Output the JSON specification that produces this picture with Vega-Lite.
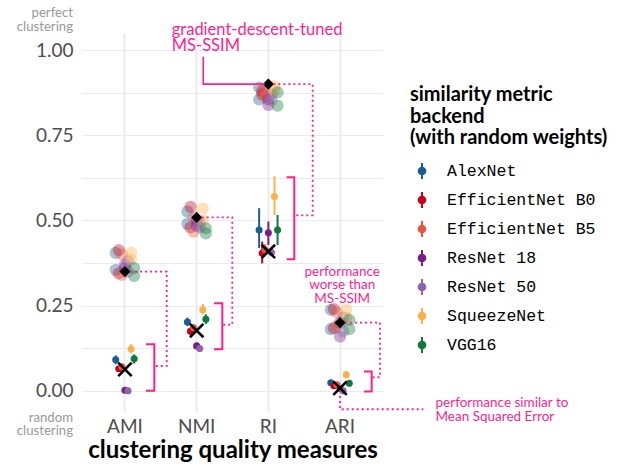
{
  "$schema": "https://vega.github.io/schema/vega-lite/v6.json",
  "width": 301,
  "height": 379,
  "autosize": "none",
  "padding": {"left": 82, "top": 33, "right": 247, "bottom": 53},
  "background": "white",
  "config": {
    "font": "Lato",
    "view": {"stroke": null},
    "legend": {
      "labelFont": "Liberation Mono",
      "labelFontSize": 16.5,
      "labelColor": "#000000",
      "labelLimit": 300,
      "titleFont": "Lato",
      "titleFontSize": 20,
      "titleFontWeight": "bold",
      "titleColor": "#000000",
      "titleLineHeight": 21.5,
      "titleLimit": 300,
      "titlePadding": 14,
      "rowPadding": 5,
      "symbolOffset": 3,
      "labelOffset": 16
    }
  },
  "datasets": {
    "random": [
      {"metric": "AMI", "network": "AlexNet", "value": 0.091, "lo": 0.078, "hi": 0.104},
      {"metric": "AMI", "network": "EfficientNet B0", "value": 0.065, "lo": 0.057, "hi": 0.073},
      {"metric": "AMI", "network": "EfficientNet B5", "value": 0.071, "lo": 0.063, "hi": 0.079},
      {"metric": "AMI", "network": "ResNet 18", "value": 0.002, "lo": 0.0, "hi": 0.004},
      {"metric": "AMI", "network": "ResNet 50", "value": 0.0, "lo": 0.0, "hi": 0.003},
      {"metric": "AMI", "network": "SqueezeNet", "value": 0.123, "lo": 0.11, "hi": 0.137},
      {"metric": "AMI", "network": "VGG16", "value": 0.094, "lo": 0.08, "hi": 0.107},
      {"metric": "NMI", "network": "AlexNet", "value": 0.202, "lo": 0.19, "hi": 0.215},
      {"metric": "NMI", "network": "EfficientNet B0", "value": 0.175, "lo": 0.165, "hi": 0.186},
      {"metric": "NMI", "network": "EfficientNet B5", "value": 0.185, "lo": 0.175, "hi": 0.195},
      {"metric": "NMI", "network": "ResNet 18", "value": 0.132, "lo": 0.127, "hi": 0.137},
      {"metric": "NMI", "network": "ResNet 50", "value": 0.124, "lo": 0.119, "hi": 0.129},
      {"metric": "NMI", "network": "SqueezeNet", "value": 0.238, "lo": 0.225, "hi": 0.255},
      {"metric": "NMI", "network": "VGG16", "value": 0.21, "lo": 0.196, "hi": 0.225},
      {"metric": "RI", "network": "AlexNet", "value": 0.472, "lo": 0.419, "hi": 0.536},
      {"metric": "RI", "network": "EfficientNet B0", "value": 0.404, "lo": 0.374, "hi": 0.438},
      {"metric": "RI", "network": "EfficientNet B5", "value": 0.413, "lo": 0.4, "hi": 0.43},
      {"metric": "RI", "network": "ResNet 18", "value": 0.464, "lo": 0.428, "hi": 0.497},
      {"metric": "RI", "network": "ResNet 50", "value": 0.406, "lo": 0.395, "hi": 0.418},
      {"metric": "RI", "network": "SqueezeNet", "value": 0.57, "lo": 0.516, "hi": 0.63},
      {"metric": "RI", "network": "VGG16", "value": 0.472, "lo": 0.428, "hi": 0.516},
      {"metric": "ARI", "network": "AlexNet", "value": 0.024, "lo": 0.018, "hi": 0.03},
      {"metric": "ARI", "network": "EfficientNet B0", "value": 0.015, "lo": 0.009, "hi": 0.021},
      {"metric": "ARI", "network": "EfficientNet B5", "value": 0.018, "lo": 0.012, "hi": 0.024},
      {"metric": "ARI", "network": "ResNet 18", "value": 0.006, "lo": 0.002, "hi": 0.01},
      {"metric": "ARI", "network": "ResNet 50", "value": 0.0, "lo": 0.0, "hi": 0.003},
      {"metric": "ARI", "network": "SqueezeNet", "value": 0.047, "lo": 0.038, "hi": 0.058},
      {"metric": "ARI", "network": "VGG16", "value": 0.022, "lo": 0.016, "hi": 0.028}
    ],
    "trained": [
      {"metric": "AMI", "network": "AlexNet", "value": 0.405},
      {"metric": "AMI", "network": "AlexNet", "value": 0.355},
      {"metric": "AMI", "network": "EfficientNet B0", "value": 0.413},
      {"metric": "AMI", "network": "EfficientNet B0", "value": 0.345},
      {"metric": "AMI", "network": "EfficientNet B5", "value": 0.4},
      {"metric": "AMI", "network": "EfficientNet B5", "value": 0.34},
      {"metric": "AMI", "network": "ResNet 18", "value": 0.37},
      {"metric": "AMI", "network": "ResNet 18", "value": 0.36},
      {"metric": "AMI", "network": "ResNet 50", "value": 0.38},
      {"metric": "AMI", "network": "ResNet 50", "value": 0.35},
      {"metric": "AMI", "network": "SqueezeNet", "value": 0.405},
      {"metric": "AMI", "network": "SqueezeNet", "value": 0.385},
      {"metric": "AMI", "network": "VGG16", "value": 0.36},
      {"metric": "AMI", "network": "VGG16", "value": 0.337},
      {"metric": "NMI", "network": "AlexNet", "value": 0.526},
      {"metric": "NMI", "network": "AlexNet", "value": 0.49},
      {"metric": "NMI", "network": "EfficientNet B0", "value": 0.54},
      {"metric": "NMI", "network": "EfficientNet B0", "value": 0.48},
      {"metric": "NMI", "network": "EfficientNet B5", "value": 0.51},
      {"metric": "NMI", "network": "EfficientNet B5", "value": 0.467},
      {"metric": "NMI", "network": "ResNet 18", "value": 0.5},
      {"metric": "NMI", "network": "ResNet 18", "value": 0.485},
      {"metric": "NMI", "network": "ResNet 50", "value": 0.495},
      {"metric": "NMI", "network": "ResNet 50", "value": 0.48},
      {"metric": "NMI", "network": "SqueezeNet", "value": 0.535},
      {"metric": "NMI", "network": "SqueezeNet", "value": 0.5},
      {"metric": "NMI", "network": "VGG16", "value": 0.477},
      {"metric": "NMI", "network": "VGG16", "value": 0.462},
      {"metric": "RI", "network": "AlexNet", "value": 0.89},
      {"metric": "RI", "network": "AlexNet", "value": 0.855},
      {"metric": "RI", "network": "EfficientNet B0", "value": 0.88},
      {"metric": "RI", "network": "EfficientNet B0", "value": 0.87},
      {"metric": "RI", "network": "EfficientNet B5", "value": 0.863},
      {"metric": "RI", "network": "EfficientNet B5", "value": 0.875},
      {"metric": "RI", "network": "ResNet 18", "value": 0.839},
      {"metric": "RI", "network": "ResNet 18", "value": 0.855},
      {"metric": "RI", "network": "ResNet 50", "value": 0.853},
      {"metric": "RI", "network": "ResNet 50", "value": 0.87},
      {"metric": "RI", "network": "SqueezeNet", "value": 0.894},
      {"metric": "RI", "network": "SqueezeNet", "value": 0.88},
      {"metric": "RI", "network": "VGG16", "value": 0.876},
      {"metric": "RI", "network": "VGG16", "value": 0.837},
      {"metric": "ARI", "network": "AlexNet", "value": 0.238},
      {"metric": "ARI", "network": "AlexNet", "value": 0.181},
      {"metric": "ARI", "network": "EfficientNet B0", "value": 0.24},
      {"metric": "ARI", "network": "EfficientNet B0", "value": 0.184},
      {"metric": "ARI", "network": "EfficientNet B5", "value": 0.23},
      {"metric": "ARI", "network": "EfficientNet B5", "value": 0.19},
      {"metric": "ARI", "network": "ResNet 18", "value": 0.159},
      {"metric": "ARI", "network": "ResNet 18", "value": 0.2},
      {"metric": "ARI", "network": "ResNet 50", "value": 0.215},
      {"metric": "ARI", "network": "ResNet 50", "value": 0.175},
      {"metric": "ARI", "network": "SqueezeNet", "value": 0.238},
      {"metric": "ARI", "network": "SqueezeNet", "value": 0.215},
      {"metric": "ARI", "network": "VGG16", "value": 0.208},
      {"metric": "ARI", "network": "VGG16", "value": 0.181}
    ],
    "baselines": [
      {"metric": "AMI", "method": "MS-SSIM tuned", "value": 0.35},
      {"metric": "NMI", "method": "MS-SSIM tuned", "value": 0.509},
      {"metric": "RI", "method": "MS-SSIM tuned", "value": 0.9},
      {"metric": "ARI", "method": "MS-SSIM tuned", "value": 0.2},
      {"metric": "AMI", "method": "MSE", "value": 0.063},
      {"metric": "NMI", "method": "MSE", "value": 0.177},
      {"metric": "RI", "method": "MSE", "value": 0.409},
      {"metric": "ARI", "method": "MSE", "value": 0.008}
    ],
    "annotLines": [
      {"kind": "pointer", "id": "p1", "ord": 1, "x": 2.092, "y": 0.98},
      {"kind": "pointer", "id": "p1", "ord": 2, "x": 2.092, "y": 0.9},
      {"kind": "pointer", "id": "p1", "ord": 3, "x": 2.95, "y": 0.9},
      {"kind": "connector", "id": "c1", "ord": 1, "x": 1.07, "y": 0.35},
      {"kind": "connector", "id": "c1", "ord": 2, "x": 1.582, "y": 0.35},
      {"kind": "connector", "id": "c1", "ord": 3, "x": 1.582, "y": 0.073},
      {"kind": "connector", "id": "c1", "ord": 4, "x": 1.409, "y": 0.073},
      {"kind": "connector", "id": "c2", "ord": 1, "x": 2.07, "y": 0.509},
      {"kind": "connector", "id": "c2", "ord": 2, "x": 2.497, "y": 0.509},
      {"kind": "connector", "id": "c2", "ord": 3, "x": 2.497, "y": 0.194},
      {"kind": "connector", "id": "c2", "ord": 4, "x": 2.358, "y": 0.194},
      {"kind": "connector", "id": "c3", "ord": 1, "x": 3.07, "y": 0.9},
      {"kind": "connector", "id": "c3", "ord": 2, "x": 3.619, "y": 0.9},
      {"kind": "connector", "id": "c3", "ord": 3, "x": 3.619, "y": 0.515},
      {"kind": "connector", "id": "c3", "ord": 4, "x": 3.362, "y": 0.515},
      {"kind": "connector", "id": "c4", "ord": 1, "x": 4.07, "y": 0.2},
      {"kind": "connector", "id": "c4", "ord": 2, "x": 4.558, "y": 0.2},
      {"kind": "connector", "id": "c4", "ord": 3, "x": 4.558, "y": 0.04},
      {"kind": "connector", "id": "c4", "ord": 4, "x": 4.442, "y": 0.04},
      {"kind": "connector", "id": "c5", "ord": 1, "x": 4.0, "y": -0.015},
      {"kind": "connector", "id": "c5", "ord": 2, "x": 4.0, "y": -0.054},
      {"kind": "connector", "id": "c5", "ord": 3, "x": 5.162, "y": -0.054},
      {"kind": "bracket", "id": "b1", "ord": 1, "x": 1.293, "y": 0.137},
      {"kind": "bracket", "id": "b1", "ord": 2, "x": 1.409, "y": 0.137},
      {"kind": "bracket", "id": "b1", "ord": 3, "x": 1.409, "y": 0.0},
      {"kind": "bracket", "id": "b1", "ord": 4, "x": 1.293, "y": 0.0},
      {"kind": "bracket", "id": "b2", "ord": 1, "x": 2.242, "y": 0.257},
      {"kind": "bracket", "id": "b2", "ord": 2, "x": 2.358, "y": 0.257},
      {"kind": "bracket", "id": "b2", "ord": 3, "x": 2.358, "y": 0.122},
      {"kind": "bracket", "id": "b2", "ord": 4, "x": 2.242, "y": 0.122},
      {"kind": "bracket", "id": "b3", "ord": 1, "x": 3.256, "y": 0.627},
      {"kind": "bracket", "id": "b3", "ord": 2, "x": 3.362, "y": 0.627},
      {"kind": "bracket", "id": "b3", "ord": 3, "x": 3.362, "y": 0.386},
      {"kind": "bracket", "id": "b3", "ord": 4, "x": 3.256, "y": 0.386},
      {"kind": "bracket", "id": "b4", "ord": 1, "x": 4.335, "y": 0.057},
      {"kind": "bracket", "id": "b4", "ord": 2, "x": 4.442, "y": 0.057},
      {"kind": "bracket", "id": "b4", "ord": 3, "x": 4.442, "y": -0.002},
      {"kind": "bracket", "id": "b4", "ord": 4, "x": 4.335, "y": -0.002}
    ],
    "annotText": [
      {"kind": "tuned", "label": "gradient-descent-tuned\nMS-SSIM", "x": 1.652, "y": 1.059},
      {"kind": "worse", "label": "performance\nworse than\nMS-SSIM", "x": 4.031, "y": 0.35},
      {"kind": "similar", "label": "performance similar to\nMean Squared Error", "x": 5.333, "y": -0.036},
      {"kind": "scale", "label": "perfect\nclustering", "x": 0.275, "y": 1.108},
      {"kind": "scale", "label": "random\nclustering", "x": 0.275, "y": -0.079}
    ]
  },
  "layer": [
    {
      "layer": [
        {
          "data": {"name": "trained"},
          "mark": {"type": "point", "filled": true, "size": 150, "opacity": 0.38},
          "encoding": {
            "x": {
              "field": "metric", "type": "nominal", "sort": null,
              "scale": {"type": "band", "domain": ["AMI", "NMI", "RI", "ARI"], "paddingInner": 0.7, "paddingOuter": 0.449},
              "title": "clustering quality measures",
              "axis": {
                "labelAngle": 0, "labelFontSize": 19, "labelColor": "#4d4d4d", "labelPadding": 5,
                "ticks": false, "domain": false, "grid": true, "gridColor": "#ebebeb", "gridWidth": 2,
                "titleFontSize": 24, "titleFontWeight": "bold", "titleColor": "#000000", "titlePadding": 2
              }
            },
            "xOffset": {"field": "network", "type": "nominal", "scale": {"type": "point", "padding": 0.5}},
            "y": {
              "field": "value", "type": "quantitative", "title": null,
              "scale": {"domain": [-0.062, 1.05], "nice": false, "zero": false},
              "axis": {
                "values": [0, 0.125, 0.25, 0.375, 0.5, 0.625, 0.75, 0.875, 1.0],
                "labelExpr": "round(datum.value * 8) % 2 == 0 ? format(datum.value, '.2f') : ''",
                "labelFontSize": 19, "labelColor": "#4d4d4d", "labelPadding": 9,
                "ticks": false, "domain": false, "grid": true, "gridColor": "#ebebeb", "gridWidth": 1.2
              }
            },
            "color": {
              "field": "network", "type": "nominal",
              "scale": {
                "domain": ["AlexNet", "EfficientNet B0", "EfficientNet B5", "ResNet 18", "ResNet 50", "SqueezeNet", "VGG16"],
                "range": ["#1a5f91", "#c4001a", "#e9573f", "#7a1f82", "#8e63b0", "#fdb14d", "#0f7a3c"]
              },
              "legend": {
                "title": ["similarity metric", "backend", "(with random weights)"],
                "orient": "none", "legendX": 328, "legendY": 52,
                "symbolType": "M0,-1L0,1M-0.42,0A0.42,0.42 0 1,0 0.42,0A0.42,0.42 0 1,0 -0.42,0Z",
                "symbolSize": 256,
                "symbolStrokeWidth": 2,
                "symbolOpacity": 1,
                "encoding": {
                  "symbols": {
                    "stroke": {"value": {"expr": "scale('color', datum.value)"}},
                    "fill": {"value": {"expr": "scale('color', datum.value)"}},
                    "opacity": {"value": 1},
                    "strokeWidth": {"value": 2}
                  }
                }
              }
            }
          }
        },
        {
          "data": {"name": "baselines"},
          "transform": [{"filter": "datum.method == 'MS-SSIM tuned'"}],
          "mark": {"type": "point", "shape": "diamond", "filled": true, "size": 125, "color": "#000000", "opacity": 1},
          "encoding": {
            "x": {"field": "metric", "type": "nominal", "sort": null},
            "y": {"field": "value", "type": "quantitative", "title": null}
          }
        },
        {
          "data": {"name": "random"},
          "mark": {"type": "rule", "strokeWidth": 2},
          "encoding": {
            "x": {"field": "metric", "type": "nominal", "sort": null},
            "xOffset": {"field": "network", "type": "nominal"},
            "y": {"field": "lo", "type": "quantitative", "title": null},
            "y2": {"field": "hi"},
            "color": {
              "field": "network", "type": "nominal",
              "legend": {
                "title": ["similarity metric", "backend", "(with random weights)"],
                "orient": "none", "legendX": 328, "legendY": 52,
                "symbolType": "M0,-1L0,1M-0.42,0A0.42,0.42 0 1,0 0.42,0A0.42,0.42 0 1,0 -0.42,0Z",
                "symbolSize": 256,
                "symbolStrokeWidth": 2,
                "symbolOpacity": 1,
                "encoding": {
                  "symbols": {
                    "stroke": {"value": {"expr": "scale('color', datum.value)"}},
                    "fill": {"value": {"expr": "scale('color', datum.value)"}},
                    "opacity": {"value": 1},
                    "strokeWidth": {"value": 2}
                  }
                }
              }
            }
          }
        },
        {
          "data": {"name": "random"},
          "mark": {"type": "point", "filled": true, "size": 50, "opacity": 1},
          "encoding": {
            "x": {"field": "metric", "type": "nominal", "sort": null},
            "xOffset": {"field": "network", "type": "nominal"},
            "y": {"field": "value", "type": "quantitative", "title": null},
            "color": {
              "field": "network", "type": "nominal",
              "legend": {
                "title": ["similarity metric", "backend", "(with random weights)"],
                "orient": "none", "legendX": 328, "legendY": 52,
                "symbolType": "M0,-1L0,1M-0.42,0A0.42,0.42 0 1,0 0.42,0A0.42,0.42 0 1,0 -0.42,0Z",
                "symbolSize": 256,
                "symbolStrokeWidth": 2,
                "symbolOpacity": 1,
                "encoding": {
                  "symbols": {
                    "stroke": {"value": {"expr": "scale('color', datum.value)"}},
                    "fill": {"value": {"expr": "scale('color', datum.value)"}},
                    "opacity": {"value": 1},
                    "strokeWidth": {"value": 2}
                  }
                }
              }
            }
          }
        },
        {
          "data": {"name": "baselines"},
          "transform": [{"filter": "datum.method == 'MSE'"}],
          "mark": {"type": "point", "shape": "M-1,-1L1,1M-1,1L1,-1", "filled": false, "size": 180, "strokeWidth": 2.6, "color": "#000000", "opacity": 1},
          "encoding": {
            "x": {"field": "metric", "type": "nominal", "sort": null},
            "y": {"field": "value", "type": "quantitative", "title": null}
          }
        }
      ]
    },
    {
      "layer": [
        {
          "data": {"name": "annotLines"},
          "transform": [{"filter": "datum.kind == 'connector'"}],
          "mark": {"type": "line", "color": "#ff1f8f", "strokeWidth": 1.8, "strokeDash": [2, 3]},
          "encoding": {
            "x": {"field": "x", "type": "quantitative", "scale": {"domain": [0.4, 4.6], "nice": false, "zero": false}, "axis": null},
            "y": {"field": "y", "type": "quantitative", "title": null},
            "detail": {"field": "id"},
            "order": {"field": "ord"}
          }
        },
        {
          "data": {"name": "annotLines"},
          "transform": [{"filter": "datum.kind == 'bracket'"}],
          "mark": {"type": "line", "color": "#ff1f8f", "strokeWidth": 2},
          "encoding": {
            "x": {"field": "x", "type": "quantitative", "axis": null},
            "y": {"field": "y", "type": "quantitative", "title": null},
            "detail": {"field": "id"},
            "order": {"field": "ord"}
          }
        },
        {
          "data": {"name": "annotLines"},
          "transform": [{"filter": "datum.kind == 'pointer'"}],
          "mark": {"type": "line", "color": "#ff1f8f", "strokeWidth": 1.6},
          "encoding": {
            "x": {"field": "x", "type": "quantitative", "axis": null},
            "y": {"field": "y", "type": "quantitative", "title": null},
            "detail": {"field": "id"},
            "order": {"field": "ord"}
          }
        },
        {
          "data": {"name": "annotText"},
          "transform": [{"filter": "datum.kind == 'tuned'"}],
          "mark": {"type": "text", "color": "#ff1f8f", "fontSize": 16.5, "align": "left", "baseline": "middle", "lineBreak": "\n", "lineHeight": 16.5},
          "encoding": {
            "x": {"field": "x", "type": "quantitative", "axis": null},
            "y": {"field": "y", "type": "quantitative", "title": null},
            "text": {"field": "label"}
          }
        },
        {
          "data": {"name": "annotText"},
          "transform": [{"filter": "datum.kind == 'worse'"}],
          "mark": {"type": "text", "color": "#ff1f8f", "fontSize": 13.5, "align": "center", "baseline": "middle", "lineBreak": "\n", "lineHeight": 13.5},
          "encoding": {
            "x": {"field": "x", "type": "quantitative", "axis": null},
            "y": {"field": "y", "type": "quantitative", "title": null},
            "text": {"field": "label"}
          }
        },
        {
          "data": {"name": "annotText"},
          "transform": [{"filter": "datum.kind == 'similar'"}],
          "mark": {"type": "text", "color": "#ff1f8f", "fontSize": 13.5, "align": "left", "baseline": "middle", "lineBreak": "\n", "lineHeight": 13.5},
          "encoding": {
            "x": {"field": "x", "type": "quantitative", "axis": null},
            "y": {"field": "y", "type": "quantitative", "title": null},
            "text": {"field": "label"}
          }
        },
        {
          "data": {"name": "annotText"},
          "transform": [{"filter": "datum.kind == 'scale'"}],
          "mark": {"type": "text", "color": "#999999", "fontSize": 13.2, "align": "right", "baseline": "middle", "lineBreak": "\n", "lineHeight": 13.5},
          "encoding": {
            "x": {"field": "x", "type": "quantitative", "axis": null},
            "y": {"field": "y", "type": "quantitative", "title": null},
            "text": {"field": "label"}
          }
        }
      ]
    }
  ],
  "resolve": {"scale": {"x": "independent"}}
}
